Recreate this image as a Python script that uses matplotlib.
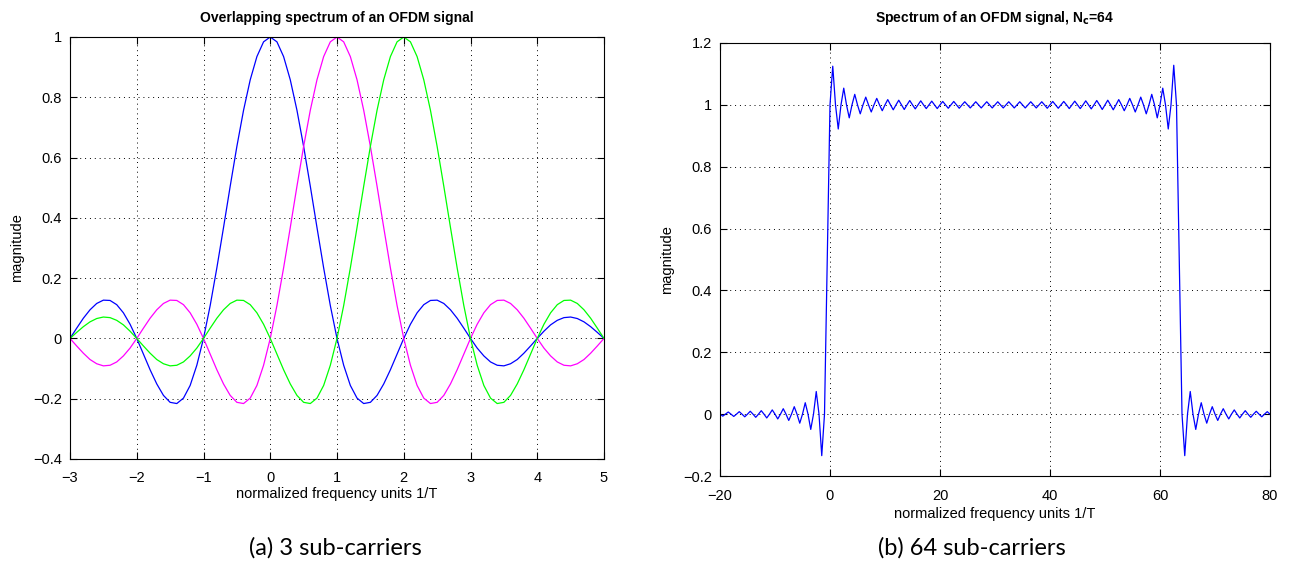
import matplotlib.pyplot as plt
import numpy as np

# (a) three sub-carriers, sampled every 0.1 from -3 to 5
f3 = np.linspace(-3, 5, 81)
blue = [0.0, 0.034, 0.067, 0.095, 0.116, 0.127, 0.126, 0.112, 0.085, 0.047,
        0.0, -0.052, -0.104, -0.151, -0.189, -0.212, -0.216, -0.198, -0.156, -0.089,
        0.0, 0.109, 0.234, 0.368, 0.505, 0.637, 0.757, 0.858, 0.935, 0.984,
        1.0, 0.984, 0.935, 0.858, 0.757, 0.637, 0.505, 0.368, 0.234, 0.109,
        0.0, -0.089, -0.156, -0.198, -0.216, -0.212, -0.189, -0.151, -0.104, -0.052,
        0.0, 0.047, 0.085, 0.112, 0.126, 0.127, 0.116, 0.095, 0.067, 0.034,
        0.0, -0.032, -0.058, -0.078, -0.089, -0.091, -0.084, -0.070, -0.049, -0.025,
        0.0, 0.024, 0.045, 0.060, 0.069, 0.071, 0.066, 0.055, 0.039, 0.020,
        0.0]
magenta = [0.0, -0.025, -0.049, -0.070, -0.084, -0.091, -0.089, -0.078, -0.058, -0.032,
           0.0, 0.034, 0.067, 0.095, 0.116, 0.127, 0.126, 0.112, 0.085, 0.047,
           0.0, -0.052, -0.104, -0.151, -0.189, -0.212, -0.216, -0.198, -0.156, -0.089,
           0.0, 0.109, 0.234, 0.368, 0.505, 0.637, 0.757, 0.858, 0.935, 0.984,
           1.0, 0.984, 0.935, 0.858, 0.757, 0.637, 0.505, 0.368, 0.234, 0.109,
           0.0, -0.089, -0.156, -0.198, -0.216, -0.212, -0.189, -0.151, -0.104, -0.052,
           0.0, 0.047, 0.085, 0.112, 0.126, 0.127, 0.116, 0.095, 0.067, 0.034,
           0.0, -0.032, -0.058, -0.078, -0.089, -0.091, -0.084, -0.070, -0.049, -0.025,
           0.0]
green = [0.0, 0.020, 0.039, 0.055, 0.066, 0.071, 0.069, 0.060, 0.045, 0.024,
         0.0, -0.025, -0.049, -0.070, -0.084, -0.091, -0.089, -0.078, -0.058, -0.032,
         0.0, 0.034, 0.067, 0.095, 0.116, 0.127, 0.126, 0.112, 0.085, 0.047,
         0.0, -0.052, -0.104, -0.151, -0.189, -0.212, -0.216, -0.198, -0.156, -0.089,
         0.0, 0.109, 0.234, 0.368, 0.505, 0.637, 0.757, 0.858, 0.935, 0.984,
         1.0, 0.984, 0.935, 0.858, 0.757, 0.637, 0.505, 0.368, 0.234, 0.109,
         0.0, -0.089, -0.156, -0.198, -0.216, -0.212, -0.189, -0.151, -0.104, -0.052,
         0.0, 0.047, 0.085, 0.112, 0.126, 0.127, 0.116, 0.095, 0.067, 0.034,
         0.0]

# (b) 64 sub-carriers, sampled every 0.5 from -20 to 80
f64 = np.linspace(-20, 80, 201)
spec64 = [0, -0.0065, 0, 0.0069, 0, -0.0074, 0, 0.0080, 0, -0.0086,
          0, 0.0093, 0, -0.0102, 0, 0.0112, 0, -0.0123, 0, 0.0137,
          0, -0.0155, 0, 0.0176, 0, -0.0204, 0, 0.0241, 0, -0.0292,
          0, 0.0369, 0, -0.0494, 0, 0.0732, 0, -0.1342, 0, 0.4975,
          1, 1.125, 1, 0.922, 1, 1.054, 1, 0.958, 1, 1.034,
          1, 0.971, 1, 1.025, 1, 0.977, 1, 1.021, 1, 0.981,
          1, 1.017, 1, 0.984, 1, 1.015, 1, 0.985, 1, 1.014,
          1, 0.987, 1, 1.013, 1, 0.988, 1, 1.012, 1, 0.988,
          1, 1.011, 1, 0.989, 1, 1.011, 1, 0.989, 1, 1.010,
          1, 0.990, 1, 1.010, 1, 0.990, 1, 1.010, 1, 0.990,
          1, 1.010, 1, 0.990, 1, 1.010, 1, 0.990, 1, 1.010,
          1, 0.990, 1, 1.010, 1, 0.990, 1, 1.010, 1, 0.989,
          1, 1.011, 1, 0.989, 1, 1.011, 1, 0.988, 1, 1.012,
          1, 0.988, 1, 1.013, 1, 0.987, 1, 1.014, 1, 0.985,
          1, 1.015, 1, 0.984, 1, 1.017, 1, 0.981, 1, 1.021,
          1, 0.977, 1, 1.025, 1, 0.971, 1, 1.034, 1, 0.958,
          1, 1.054, 1, 0.922, 1, 1.128, 1,
          0.4975, 0, -0.1342, 0, 0.0732, 0, -0.0494, 0, 0.0369, 0,
          -0.0292, 0, 0.0241, 0, -0.0204, 0, 0.0176, 0, -0.0155, 0,
          0.0137, 0, -0.0123, 0, 0.0112, 0, -0.0102, 0, 0.0093, 0,
          -0.0086, 0, 0.0080, 0]

plt.rcParams['font.family'] = ['Liberation Sans', 'DejaVu Sans']
plt.rcParams['font.size'] = 10.5

W, H = 1293, 571
fig = plt.figure(figsize=(W / 100, H / 100), dpi=100)
ax1 = fig.add_axes([70 / W, (H - 459) / H, 534 / W, 422 / H])
ax2 = fig.add_axes([720 / W, (H - 476) / H, 550 / W, 433 / H])


def matlab_style(ax):
    ax.grid(True, linestyle=(0, (1, 4)), color="black", linewidth=0.7)
    ax.tick_params(direction="in", top=True, right=True, length=5, width=0.8)
    ax.tick_params(axis="x", pad=9)
    ax.tick_params(axis="y", pad=6)
    for s in ax.spines.values():
        s.set_linewidth(0.8)


ax1.plot(f3, blue, color=(0, 0, 1), linewidth=0.9)
ax1.plot(f3, magenta, color=(1, 0, 1), linewidth=0.9)
ax1.plot(f3, green, color=(0, 1, 0), linewidth=0.9)
ax1.set_xlim(-3, 5)
ax1.set_ylim(-0.4, 1)
ax1.set_xticks(np.arange(-3, 6, 1))
ax1.set_yticks([-0.4, -0.2, 0, 0.2, 0.4, 0.6, 0.8, 1])
ax1.set_yticklabels(["\u22120.4", "\u22120.2", "0", "0.2", "0.4", "0.6", "0.8", "1"])
ax1.set_title("Overlapping spectrum of an OFDM signal", fontweight="bold", fontsize=10, pad=11)
ax1.set_xlabel("normalized frequency units 1/T", labelpad=1)
ax1.set_ylabel("magnitude", labelpad=6)
matlab_style(ax1)

ax2.plot(f64, spec64, color=(0, 0, 1), linewidth=0.9)
ax2.set_xlim(-20, 80)
ax2.set_ylim(-0.2, 1.2)
ax2.set_xticks([-20, 0, 20, 40, 60, 80])
ax2.set_yticks([-0.2, 0, 0.2, 0.4, 0.6, 0.8, 1, 1.2])
ax2.set_yticklabels(["\u22120.2", "0", "0.2", "0.4", "0.6", "0.8", "1", "1.2"])
ax2.set_title("Spectrum of an OFDM signal, N$_\\mathbf{c}$=64", fontweight="bold", fontsize=10, pad=15)
ax2.set_xlabel("normalized frequency units 1/T", labelpad=3)
ax2.set_ylabel("magnitude", labelpad=6)
matlab_style(ax2)

cap_font = ['Lato', 'DejaVu Sans']
fig.text(335 / W, 1 - 548 / H, "(a) 3 sub-carriers", ha="center", va="center",
         fontsize=17, family=cap_font)
fig.text(972 / W, 1 - 548 / H, "(b) 64 sub-carriers", ha="center", va="center",
         fontsize=17, family=cap_font)

fig.savefig("out.png", dpi=100)
